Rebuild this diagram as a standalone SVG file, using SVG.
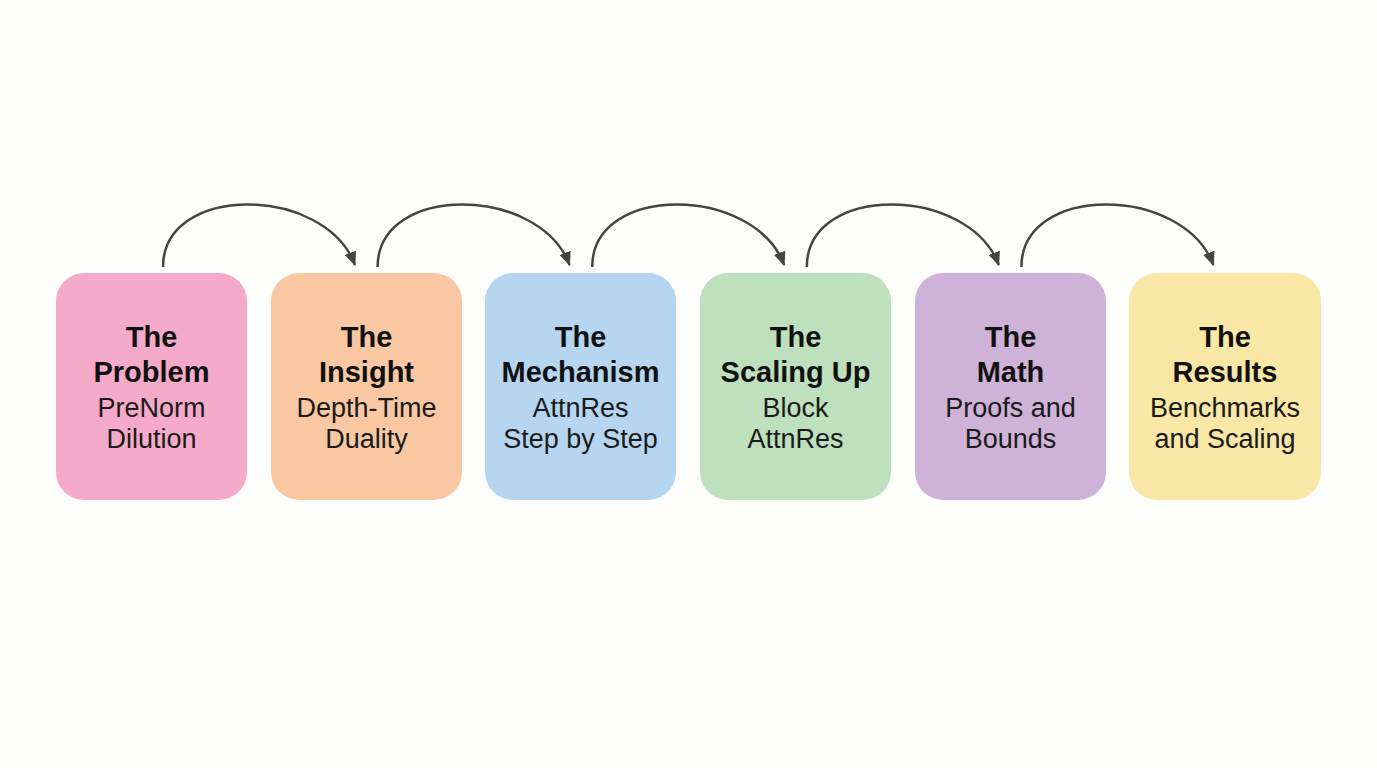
<svg xmlns="http://www.w3.org/2000/svg" width="1377" height="768" viewBox="0 0 1377 768">
<defs>
<style>
.box{stroke:none}
.t{font-family:"Liberation Sans",Arial,sans-serif;font-size:29px;font-weight:bold;fill:#111;text-anchor:middle}
.s{font-family:"Liberation Sans",Arial,sans-serif;font-size:27px;fill:#1a1a1a;text-anchor:middle}
.c{fill:none;stroke:#444;stroke-width:2.5}
</style>
<marker id="ah" viewBox="0 0 14 12" refX="13" refY="6" markerWidth="14" markerHeight="12" markerUnits="userSpaceOnUse" orient="auto">
<path d="M0,0 L14,6 L0,12 z" fill="#444"/>
</marker>
</defs>
<rect width="1377" height="768" fill="#fdfdfc"/>
<g id="connectors">
<path class="c" d="M163,267 C163,183 325,185 355,265" marker-end="url(#ah)"/>
<path class="c" d="M377.6,267 C377.6,183 539.6,185 569.6,265" marker-end="url(#ah)"/>
<path class="c" d="M592.2,267 C592.2,183 754.2,185 784.2,265" marker-end="url(#ah)"/>
<path class="c" d="M806.8,267 C806.8,183 968.8,185 998.8,265" marker-end="url(#ah)"/>
<path class="c" d="M1021.4,267 C1021.4,183 1183.4,185 1213.4,265" marker-end="url(#ah)"/>
</g>
<g id="n1">
<rect class="box" x="56" y="273" width="191" height="227" rx="28" fill="#f6aac9"/>
<text class="t" x="151.5" y="347">The</text>
<text class="t" x="151.5" y="382">Problem</text>
<text class="s" x="151.5" y="417">PreNorm</text>
<text class="s" x="151.5" y="448">Dilution</text>
</g>
<g id="n2">
<rect class="box" x="271" y="273" width="191" height="227" rx="28" fill="#f9c8a3"/>
<text class="t" x="366.5" y="347">The</text>
<text class="t" x="366.5" y="382">Insight</text>
<text class="s" x="366.5" y="417">Depth-Time</text>
<text class="s" x="366.5" y="448">Duality</text>
</g>
<g id="n3">
<rect class="box" x="485" y="273" width="191" height="227" rx="28" fill="#b5d5f1"/>
<text class="t" x="580.5" y="347">The</text>
<text class="t" x="580.5" y="382">Mechanism</text>
<text class="s" x="580.5" y="417">AttnRes</text>
<text class="s" x="580.5" y="448">Step by Step</text>
</g>
<g id="n4">
<rect class="box" x="700" y="273" width="191" height="227" rx="28" fill="#bee0bc"/>
<text class="t" x="795.5" y="347">The</text>
<text class="t" x="795.5" y="382">Scaling Up</text>
<text class="s" x="795.5" y="417">Block</text>
<text class="s" x="795.5" y="448">AttnRes</text>
</g>
<g id="n5">
<rect class="box" x="915" y="273" width="191" height="227" rx="28" fill="#ceb2d7"/>
<text class="t" x="1010.5" y="347">The</text>
<text class="t" x="1010.5" y="382">Math</text>
<text class="s" x="1010.5" y="417">Proofs and</text>
<text class="s" x="1010.5" y="448">Bounds</text>
</g>
<g id="n6">
<rect class="box" x="1129" y="273" width="192" height="227" rx="28" fill="#f8e7a5"/>
<text class="t" x="1225" y="347">The</text>
<text class="t" x="1225" y="382">Results</text>
<text class="s" x="1225" y="417">Benchmarks</text>
<text class="s" x="1225" y="448">and Scaling</text>
</g>
</svg>
